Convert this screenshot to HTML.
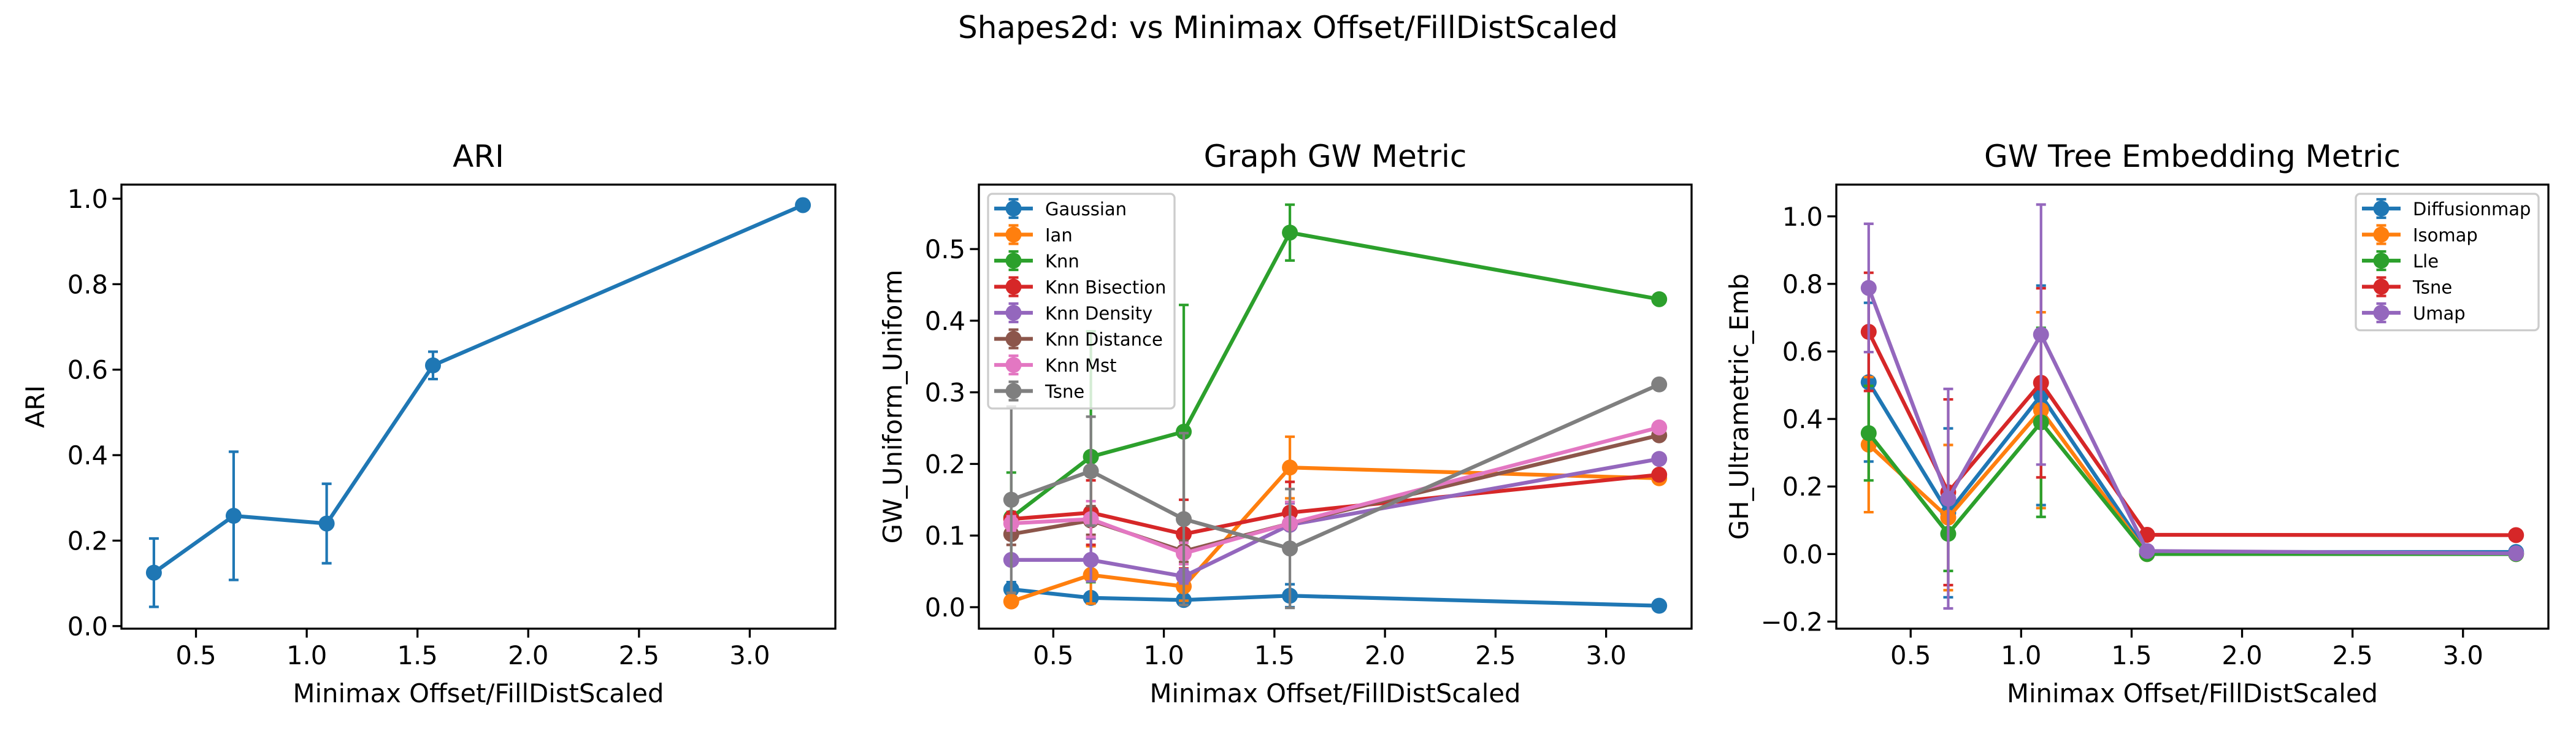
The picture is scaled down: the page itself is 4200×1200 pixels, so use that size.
<!DOCTYPE html>
<html><head><meta charset="utf-8">
<style>
html,body{margin:0;padding:0;background:#fff;}
svg{display:block;font-family:"DejaVu Sans","Liberation Sans",sans-serif;}
</style></head>
<body>
<svg id="fig" width="4200" height="1200" viewBox="0 0 4200 1200" xmlns="http://www.w3.org/2000/svg">
<rect width="4200" height="1200" fill="#fff"/>
<text x="2100" y="62" font-size="50" text-anchor="middle">Shapes2d: vs Minimax Offset/FillDistScaled</text>
</svg>
<script>
// ---- data ----
const xValues = [0.31, 0.67, 1.09, 1.57, 3.24];
const xTicks = [0.5, 1.0, 1.5, 2.0, 2.5, 3.0];
const xTickLabels = ["0.5","1.0","1.5","2.0","2.5","3.0"];

const ariValues = [0.125, 0.258, 0.240, 0.610, 0.985];
const ariErrors = [0.080, 0.150, 0.093, 0.032, 0.0];
const ariTicks = [0.0, 0.2, 0.4, 0.6, 0.8, 1.0];
const ariTickLabels = ["0.0","0.2","0.4","0.6","0.8","1.0"];

const graphNames = ["Gaussian","Ian","Knn","Knn Bisection","Knn Density","Knn Distance","Knn Mst","Tsne"];
const gaussianVals = [0.025, 0.013, 0.010, 0.016, 0.002];
const gaussianErr  = [0.010, 0.004, 0.004, 0.016, 0.001];
const ianVals = [0.008, 0.045, 0.029, 0.195, 0.180];
const ianErr  = [0.004, 0.040, 0.020, 0.043, 0.003];
const knnVals = [0.125, 0.210, 0.245, 0.523, 0.430];
const knnErr  = [0.063, 0.175, 0.177, 0.039, 0.003];
const knnBisVals = [0.123, 0.132, 0.102, 0.132, 0.185];
const knnBisErr  = [0.010, 0.045, 0.048, 0.043, 0.003];
const knnDenVals = [0.066, 0.066, 0.043, 0.115, 0.207];
const knnDenErr  = [0.005, 0.030, 0.010, 0.030, 0.003];
const knnDistVals = [0.102, 0.121, 0.078, 0.117, 0.240];
const knnDistErr  = [0.015, 0.020, 0.015, 0.030, 0.003];
const knnMstVals = [0.117, 0.123, 0.075, 0.117, 0.251];
const knnMstErr  = [0.010, 0.025, 0.015, 0.030, 0.003];
const tsneGVals = [0.150, 0.190, 0.123, 0.082, 0.311];
const tsneGErr  = [0.130, 0.076, 0.120, 0.083, 0.003];
const graphTicks = [0.0, 0.1, 0.2, 0.3, 0.4, 0.5];
const graphTickLabels = ["0.0","0.1","0.2","0.3","0.4","0.5"];

const treeNames = ["Diffusionmap","Isomap","Lle","Tsne","Umap"];
const diffVals = [0.509, 0.122, 0.470, 0.006, 0.006];
const diffErr  = [0.235, 0.250, 0.325, 0.004, 0.004];
const isoVals = [0.324, 0.108, 0.426, 0.000, 0.000];
const isoErr  = [0.200, 0.215, 0.290, 0.002, 0.002];
const lleVals = [0.358, 0.060, 0.390, 0.000, 0.000];
const lleErr  = [0.140, 0.110, 0.280, 0.002, 0.002];
const tsneTVals = [0.658, 0.183, 0.507, 0.057, 0.056];
const tsneTErr  = [0.175, 0.275, 0.280, 0.003, 0.003];
const umapVals = [0.788, 0.164, 0.650, 0.009, 0.002];
const umapErr  = [0.190, 0.325, 0.385, 0.003, 0.003];
const treeTicks = [-0.2, 0.0, 0.2, 0.4, 0.6, 0.8, 1.0];
const treeTickLabels = ["\u22120.2","0.0","0.2","0.4","0.6","0.8","1.0"];

const colors = ["#1f77b4","#ff7f0e","#2ca02c","#d62728","#9467bd","#8c564b","#e377c2","#7f7f7f"];

// ---- drawing ----
const NS = "http://www.w3.org/2000/svg";
const fig = document.getElementById("fig");
function mk(tag, attrs, parent){
  const e = document.createElementNS(NS, tag);
  for (const k in attrs) e.setAttribute(k, attrs[k]);
  (parent||fig).appendChild(e);
  return e;
}
const XMIN = 0.1635, XMAX = 3.3865;

function panel(cfg){
  const g = mk("g", {});
  
  
  const L=cfg.left, R=cfg.right, T=301, B=1025;
  const sx = v => L + (v - XMIN)/(XMAX - XMIN)*(R-L);
  const sy = v => B - (v - cfg.ymin)/(cfg.ymax - cfg.ymin)*(B-T);
  // title
  const t = mk("text", {x:(L+R)/2, y:272, "font-size":50, "text-anchor":"middle"}, g);
  t.textContent = cfg.title;
  
  
  // x ticks
  xTicks.forEach((v,i)=>{
    const x = sx(v);
    mk("line",{x1:x,x2:x,y1:B,y2:B+14.6,stroke:"#000","stroke-width":3.3},g);
    const tl = mk("text",{x:x,y:B+58,"font-size":41.7,"text-anchor":"middle"},g);
    tl.textContent = xTickLabels[i];
    
    
  });
  cfg.ticks.forEach((v,i)=>{
    const y = sy(v);
    mk("line",{x1:L-14.6,x2:L,y1:y,y2:y,stroke:"#000","stroke-width":3.3},g);
    const tl = mk("text",{x:L-22,y:y+15,"font-size":41.7,"text-anchor":"end"},g);
    tl.textContent = cfg.tickLabels[i];
    
    
  });
  const xl = mk("text",{x:(L+R)/2,y:1145,"font-size":41.7,"text-anchor":"middle"},g);
  xl.textContent = "Minimax Offset/FillDistScaled";
  
  
  const yx = cfg.ylabelX, yy = (T+B)/2;
  const yl = mk("text",{x:yx,y:yy,"font-size":41.7,"text-anchor":"middle",transform:`rotate(-90 ${yx} ${yy})`},g);
  yl.textContent = cfg.ylabel;
  
  
  // series
  cfg.series.forEach((s,si)=>{
    const sg = mk("g",{},g);
    
    
    const c = s.color;
    xValues.forEach((xv,i)=>{
      const e = s.err[i]; if (e <= 0) return;
      const x = sx(xv), y1 = sy(s.vals[i]-e), y2 = sy(s.vals[i]+e);
      mk("line",{x1:x,x2:x,y1:y1,y2:y2,stroke:c,"stroke-width":4.2},sg);
      mk("line",{x1:x-8,x2:x+8,y1:y1,y2:y1,stroke:c,"stroke-width":4.2},sg);
      mk("line",{x1:x-8,x2:x+8,y1:y2,y2:y2,stroke:c,"stroke-width":4.2},sg);
    });
    const pts = xValues.map((xv,i)=>sx(xv)+","+sy(s.vals[i])).join(" ");
    mk("polyline",{points:pts,fill:"none",stroke:c,"stroke-width":6.25,"stroke-linejoin":"round"},sg);
    xValues.forEach((xv,i)=>{
      const m = mk("circle",{cx:sx(xv),cy:sy(s.vals[i]),r:13,fill:c},sg);
      
      
    });
  });
  // frame
  mk("rect",{x:L,y:T,width:R-L,height:B-T,fill:"none",stroke:"#000","stroke-width":3.3},g);
  // legend
  if (cfg.legend){
    const lg = cfg.legend;
    const lgG = mk("g",{},g);
    
    
    mk("rect",{x:lg.x,y:lg.y,width:lg.w,height:cfg.series.length*42.5+10,rx:7,fill:"#fff","fill-opacity":0.8,stroke:"#ccc","stroke-width":3.3},lgG);
    cfg.series.forEach((s,i)=>{
      const y = lg.y + 24 + i*42.5;
      const hx = lg.x+10, hw=63;
      const eg = mk("g",{},lgG);
      
      
      mk("line",{x1:hx,x2:hx+hw,y1:y,y2:y,stroke:s.color,"stroke-width":6.25},eg);
      mk("line",{x1:hx+hw/2,x2:hx+hw/2,y1:y-15,y2:y+15,stroke:s.color,"stroke-width":4.2},eg);
      mk("line",{x1:hx+hw/2-8,x2:hx+hw/2+8,y1:y-15,y2:y-15,stroke:s.color,"stroke-width":4.2},eg);
      mk("line",{x1:hx+hw/2-8,x2:hx+hw/2+8,y1:y+15,y2:y+15,stroke:s.color,"stroke-width":4.2},eg);
      mk("circle",{cx:hx+hw/2,cy:y,r:13,fill:s.color},eg);
      const tx = mk("text",{x:hx+hw+20,y:y+11,"font-size":29},eg);
      tx.textContent = s.name;
    });
  }
}

panel({name:"ari-panel", title:"ARI", left:198, right:1362, ymin:-0.006, ymax:1.033,
  ticks:ariTicks, tickLabels:ariTickLabels, ylabel:"ARI", ylabelX:72,
  series:[{name:"ARI", vals:ariValues, err:ariErrors, color:colors[0]}]});

const gVals=[gaussianVals,ianVals,knnVals,knnBisVals,knnDenVals,knnDistVals,knnMstVals,tsneGVals];
const gErrs=[gaussianErr,ianErr,knnErr,knnBisErr,knnDenErr,knnDistErr,knnMstErr,tsneGErr];
panel({name:"graph-gw-panel", title:"Graph GW Metric", left:1596, right:2758, ymin:-0.030, ymax:0.590,
  ticks:graphTicks, tickLabels:graphTickLabels, ylabel:"GW_Uniform_Uniform", ylabelX:1470,
  series:graphNames.map((n,i)=>({name:n, vals:gVals[i], err:gErrs[i], color:colors[i]})),
  legend:{x:1611,y:316,w:304}});

const tVals=[diffVals,isoVals,lleVals,tsneTVals,umapVals];
const tErrs=[diffErr,isoErr,lleErr,tsneTErr,umapErr];
panel({name:"gw-tree-panel", title:"GW Tree Embedding Metric", left:2994, right:4155, ymin:-0.221, ymax:1.094,
  ticks:treeTicks, tickLabels:treeTickLabels, ylabel:"GH_Ultrametric_Emb", ylabelX:2850,
  series:treeNames.map((n,i)=>({name:n, vals:tVals[i], err:tErrs[i], color:colors[i]})),
  legend:{x:3841,y:316,w:298}});
</script>
</body></html>
